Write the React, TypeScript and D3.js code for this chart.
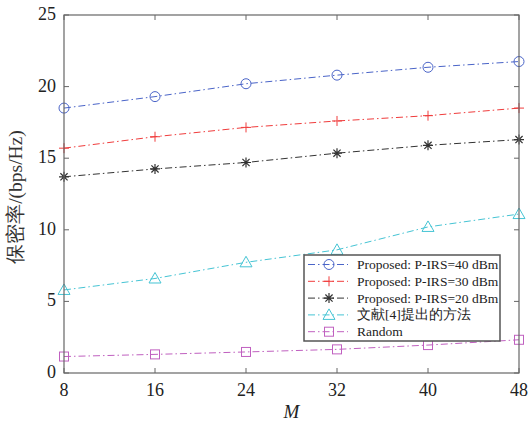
import React from "react";
import * as d3 from "d3";

const mValues = [8, 16, 24, 32, 40, 48];
const yTicks = [0, 5, 10, 15, 20, 25];

const proposed40 = [18.5, 19.3, 20.2, 20.8, 21.35, 21.75];
const proposed30 = [15.7, 16.5, 17.15, 17.6, 17.97, 18.5];
const proposed20 = [13.7, 14.25, 14.7, 15.35, 15.9, 16.3];
const ref4 = [5.8, 6.6, 7.73, 8.6, 10.2, 11.1];
const randomIrs = [1.15, 1.3, 1.47, 1.65, 1.95, 2.32];

const seriesNames = [
  "Proposed: P-IRS=40 dBm",
  "Proposed: P-IRS=30 dBm",
  "Proposed: P-IRS=20 dBm",
  "文献[4]提出的方法",
  "Random",
];

const series = [
  { name: seriesNames[0], values: proposed40, color: "#4a64c8", marker: "circle" },
  { name: seriesNames[1], values: proposed30, color: "#f03c3c", marker: "plus" },
  { name: seriesNames[2], values: proposed20, color: "#333333", marker: "star" },
  { name: seriesNames[3], values: ref4, color: "#45c4d4", marker: "triangle" },
  { name: seriesNames[4], values: randomIrs, color: "#c060c0", marker: "square" },
];

const Marker = ({ type, x, y, color }: { type: string; x: number; y: number; color: string }) => {
  const s = 5;
  if (type === "circle")
    return <circle cx={x} cy={y} r={s} fill="none" stroke={color} strokeWidth={1} />;
  if (type === "plus")
    return (
      <path d={`M${x - s},${y}H${x + s}M${x},${y - s}V${y + s}`} stroke={color} strokeWidth={1} />
    );
  if (type === "star") {
    const d = s * 0.72;
    return (
      <path
        d={`M${x - s},${y}H${x + s}M${x},${y - s}V${y + s}M${x - d},${y - d}L${x + d},${y + d}M${x - d},${y + d}L${x + d},${y - d}`}
        stroke={color}
        strokeWidth={1.2}
      />
    );
  }
  if (type === "triangle")
    return (
      <path
        d={`M${x},${y - 6}L${x + 6},${y + 4.5}L${x - 6},${y + 4.5}Z`}
        fill="none"
        stroke={color}
        strokeWidth={1}
      />
    );
  return (
    <rect x={x - 4.5} y={y - 4.5} width={9} height={9} fill="none" stroke={color} strokeWidth={1} />
  );
};

export default function App() {
  const width = 529,
    height = 422;
  const margin = { top: 15, right: 10, bottom: 49, left: 64 };
  const iw = width - margin.left - margin.right;
  const ih = height - margin.top - margin.bottom;

  const x = d3.scaleLinear().domain([8, 48]).range([0, iw]);
  const y = d3.scaleLinear().domain([0, 25]).range([ih, 0]);

  const line = d3
    .line<number>()
    .x((_, i) => x(mValues[i]))
    .y((d) => y(d));

  const axisColor = "#666";
  const font = "'Liberation Serif', 'Times New Roman', serif";
  const dash = "7,3,1.5,3";

  const legend = { x: 240, y: 240, w: 196, h: 86, row: 16.8 };

  return (
    <svg width={width} height={height} style={{ position: "absolute", left: 0, top: 0, background: "#fff" }}>
      <g transform={`translate(${margin.left},${margin.top})`} fontFamily={font}>
        {series.map((s) => (
          <g key={s.name}>
            <path d={line(s.values) || ""} fill="none" stroke={s.color} strokeWidth={1} strokeDasharray={dash} />
            {s.values.map((v, i) => (
              <Marker key={i} type={s.marker} x={x(mValues[i])} y={y(v)} color={s.color} />
            ))}
          </g>
        ))}

        <rect x={0} y={0} width={iw} height={ih} fill="none" stroke={axisColor} strokeWidth={1.2} />
        {mValues.map((m) => (
          <g key={m}>
            <line x1={x(m)} x2={x(m)} y1={ih} y2={ih - 5} stroke={axisColor} />
            <line x1={x(m)} x2={x(m)} y1={0} y2={5} stroke={axisColor} />
            <text x={x(m)} y={ih + 23} textAnchor="middle" fontSize={18} fill="#222">
              {m}
            </text>
          </g>
        ))}
        {yTicks.map((t) => (
          <g key={t}>
            <line x1={0} x2={5} y1={y(t)} y2={y(t)} stroke={axisColor} />
            <line x1={iw} x2={iw - 5} y1={y(t)} y2={y(t)} stroke={axisColor} />
            <text x={-8} y={y(t) + 5} textAnchor="end" fontSize={18} fill="#222">
              {t}
            </text>
          </g>
        ))}

        <text x={iw / 2} y={ih + 45} textAnchor="middle" fontSize={19} fontStyle="italic" fill="#222">
          M
        </text>
        <text
          transform={`translate(${-42},${182}) rotate(-90)`}
          textAnchor="middle"
          fontSize={19.5}
          fill="#333"
        >
          保密率/(bps/Hz)
        </text>

        <g transform={`translate(${legend.x},${legend.y})`}>
          <rect width={legend.w} height={legend.h} fill="#fff" stroke="#555" strokeWidth={1.5} />
          {series.map((s, i) => {
            const cy = 9.5 + i * legend.row;
            return (
              <g key={s.name}>
                <line x1={4} x2={44} y1={cy} y2={cy} stroke={s.color} strokeWidth={1} strokeDasharray={dash} />
                <Marker type={s.marker} x={25} y={cy} color={s.color} />
                <text x={53} y={cy + 4.5} fontSize={13.5} fill="#222">
                  {s.name}
                </text>
              </g>
            );
          })}
        </g>
      </g>
    </svg>
  );
}
